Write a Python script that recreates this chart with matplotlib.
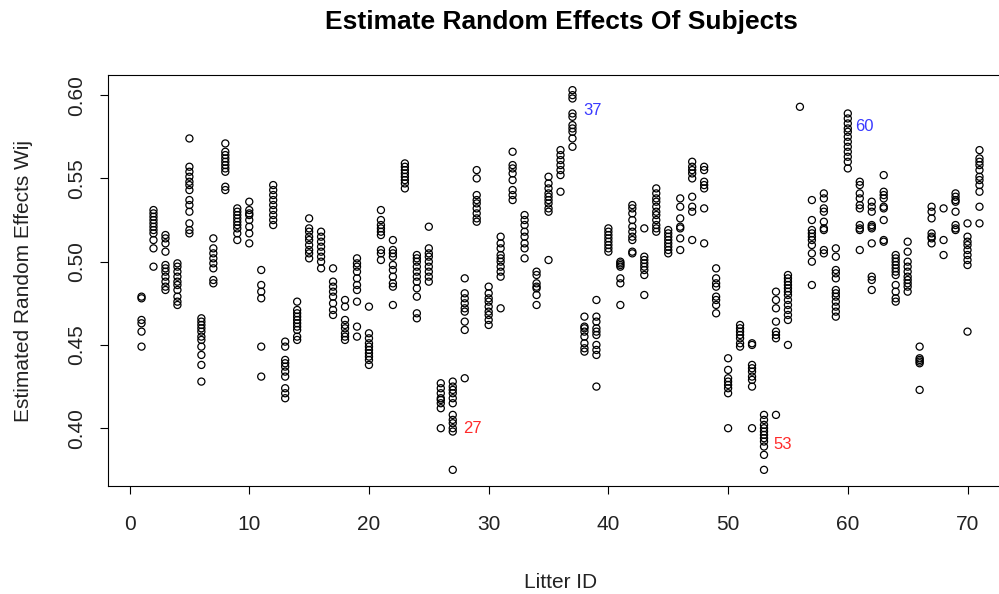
import matplotlib
matplotlib.use("Agg")
import matplotlib.pyplot as plt

litters = list(range(1, 72))
effects = [
    [0.479, 0.478, 0.465, 0.463, 0.458, 0.449],
    [0.531, 0.529, 0.527, 0.525, 0.523, 0.521, 0.519, 0.517, 0.513, 0.508, 0.497],
    [0.516, 0.514, 0.511, 0.506, 0.498, 0.496, 0.494, 0.491, 0.488, 0.485, 0.483],
    [0.499, 0.497, 0.494, 0.491, 0.488, 0.486, 0.483, 0.479, 0.476, 0.474],
    [0.574, 0.557, 0.554, 0.551, 0.548, 0.546, 0.543, 0.537, 0.534, 0.530, 0.523, 0.519, 0.517],
    [0.466, 0.464, 0.462, 0.460, 0.458, 0.455, 0.453, 0.449, 0.444, 0.438, 0.428],
    [0.514, 0.508, 0.505, 0.502, 0.499, 0.496, 0.489, 0.487],
    [0.571, 0.566, 0.564, 0.562, 0.560, 0.558, 0.556, 0.554, 0.545, 0.543],
    [0.532, 0.530, 0.528, 0.526, 0.524, 0.522, 0.520, 0.517, 0.513],
    [0.536, 0.531, 0.529, 0.528, 0.525, 0.521, 0.517, 0.511],
    [0.495, 0.486, 0.482, 0.478, 0.449, 0.431],
    [0.546, 0.543, 0.540, 0.537, 0.534, 0.531, 0.528, 0.525, 0.522],
    [0.452, 0.449, 0.441, 0.439, 0.437, 0.434, 0.431, 0.424, 0.421, 0.418],
    [0.476, 0.471, 0.469, 0.467, 0.465, 0.463, 0.461, 0.459, 0.455, 0.453],
    [0.526, 0.520, 0.518, 0.515, 0.513, 0.510, 0.507, 0.505, 0.502],
    [0.518, 0.515, 0.512, 0.509, 0.506, 0.503, 0.500, 0.496],
    [0.496, 0.488, 0.485, 0.482, 0.479, 0.475, 0.471, 0.468],
    [0.477, 0.473, 0.465, 0.462, 0.460, 0.457, 0.455, 0.453],
    [0.502, 0.499, 0.497, 0.494, 0.490, 0.486, 0.483, 0.476, 0.461, 0.455],
    [0.473, 0.457, 0.454, 0.451, 0.449, 0.447, 0.445, 0.443, 0.441, 0.438],
    [0.531, 0.525, 0.522, 0.520, 0.518, 0.516, 0.507, 0.505, 0.501],
    [0.513, 0.507, 0.505, 0.503, 0.498, 0.495, 0.491, 0.487, 0.485, 0.474],
    [0.559, 0.557, 0.555, 0.553, 0.551, 0.549, 0.547, 0.544],
    [0.504, 0.502, 0.500, 0.497, 0.494, 0.491, 0.488, 0.484, 0.479, 0.469, 0.466],
    [0.521, 0.508, 0.505, 0.503, 0.500, 0.497, 0.494, 0.491, 0.488],
    [0.427, 0.424, 0.421, 0.418, 0.417, 0.415, 0.412, 0.400],
    [0.428, 0.425, 0.423, 0.421, 0.418, 0.415, 0.408, 0.405, 0.403, 0.400, 0.398, 0.375],
    [0.490, 0.481, 0.478, 0.475, 0.472, 0.470, 0.464, 0.459, 0.430],
    [0.555, 0.550, 0.540, 0.537, 0.535, 0.532, 0.529, 0.526, 0.524],
    [0.485, 0.481, 0.478, 0.476, 0.473, 0.470, 0.468, 0.465, 0.462],
    [0.515, 0.511, 0.508, 0.504, 0.502, 0.500, 0.497, 0.494, 0.491, 0.472],
    [0.566, 0.558, 0.556, 0.553, 0.549, 0.543, 0.540, 0.537],
    [0.528, 0.525, 0.522, 0.518, 0.515, 0.511, 0.508, 0.502],
    [0.494, 0.492, 0.487, 0.485, 0.484, 0.480, 0.474],
    [0.551, 0.547, 0.544, 0.541, 0.539, 0.537, 0.535, 0.532, 0.530, 0.501],
    [0.567, 0.564, 0.561, 0.558, 0.555, 0.552, 0.542],
    [0.603, 0.600, 0.598, 0.589, 0.587, 0.582, 0.580, 0.578, 0.574, 0.569],
    [0.467, 0.461, 0.460, 0.458, 0.455, 0.451, 0.448, 0.446],
    [0.477, 0.467, 0.464, 0.460, 0.458, 0.456, 0.450, 0.447, 0.444, 0.425],
    [0.520, 0.518, 0.516, 0.514, 0.512, 0.510, 0.508, 0.506],
    [0.500, 0.499, 0.498, 0.497, 0.490, 0.487, 0.474],
    [0.534, 0.532, 0.529, 0.525, 0.521, 0.518, 0.515, 0.513, 0.506, 0.505],
    [0.520, 0.503, 0.501, 0.499, 0.497, 0.495, 0.492, 0.480],
    [0.544, 0.541, 0.538, 0.536, 0.533, 0.530, 0.528, 0.525, 0.522, 0.520, 0.518],
    [0.519, 0.517, 0.515, 0.513, 0.511, 0.509, 0.507, 0.505],
    [0.538, 0.533, 0.526, 0.521, 0.520, 0.514, 0.507],
    [0.560, 0.557, 0.555, 0.553, 0.550, 0.539, 0.533, 0.530, 0.513],
    [0.557, 0.555, 0.548, 0.546, 0.544, 0.532, 0.511],
    [0.496, 0.490, 0.487, 0.485, 0.479, 0.477, 0.474, 0.469],
    [0.442, 0.435, 0.430, 0.428, 0.426, 0.424, 0.421, 0.400],
    [0.462, 0.460, 0.458, 0.456, 0.454, 0.451, 0.449],
    [0.451, 0.450, 0.438, 0.436, 0.434, 0.431, 0.429, 0.425, 0.400],
    [0.408, 0.405, 0.402, 0.400, 0.398, 0.396, 0.394, 0.392, 0.389, 0.384, 0.375],
    [0.482, 0.477, 0.472, 0.464, 0.458, 0.456, 0.454, 0.408],
    [0.492, 0.490, 0.488, 0.486, 0.484, 0.482, 0.480, 0.477, 0.474, 0.471, 0.468, 0.465, 0.450],
    [0.593],
    [0.537, 0.525, 0.519, 0.517, 0.515, 0.513, 0.510, 0.505, 0.500, 0.486],
    [0.541, 0.538, 0.532, 0.530, 0.524, 0.520, 0.519, 0.507, 0.505],
    [0.508, 0.503, 0.495, 0.493, 0.490, 0.483, 0.481, 0.479, 0.476, 0.473, 0.470, 0.467],
    [0.589, 0.586, 0.583, 0.580, 0.578, 0.575, 0.572, 0.569, 0.566, 0.563, 0.560, 0.556],
    [0.548, 0.546, 0.541, 0.538, 0.534, 0.532, 0.522, 0.520, 0.519, 0.507],
    [0.536, 0.533, 0.530, 0.522, 0.521, 0.520, 0.511, 0.491, 0.489, 0.483],
    [0.552, 0.542, 0.540, 0.538, 0.533, 0.532, 0.525, 0.513, 0.512],
    [0.504, 0.502, 0.500, 0.498, 0.496, 0.494, 0.492, 0.486, 0.482, 0.478, 0.476],
    [0.512, 0.506, 0.500, 0.497, 0.494, 0.491, 0.489, 0.487, 0.485, 0.482],
    [0.449, 0.442, 0.441, 0.440, 0.439, 0.423],
    [0.533, 0.530, 0.526, 0.517, 0.515, 0.514, 0.511],
    [0.532, 0.513, 0.504],
    [0.541, 0.539, 0.537, 0.536, 0.530, 0.522, 0.520, 0.519],
    [0.523, 0.515, 0.512, 0.510, 0.507, 0.504, 0.501, 0.498, 0.458],
    [0.567, 0.562, 0.560, 0.558, 0.555, 0.551, 0.549, 0.546, 0.542, 0.533, 0.523],
]

label_ids = [27, 37, 53, 60]
label_x = [27.9, 37.9, 53.8, 60.6]
label_y = [0.400, 0.591, 0.390, 0.581]
label_colors = ["#FF2A2A", "#3A3AFF", "#FF2A2A", "#3A3AFF"]

xticks = [0, 10, 20, 30, 40, 50, 60, 70]
yticks = [0.40, 0.45, 0.50, 0.55, 0.60]
ytick_labels = ["0.40", "0.45", "0.50", "0.55", "0.60"]

plt.rcParams['font.family'] = ['Liberation Sans', 'DejaVu Sans']

W, H = 999, 594
fig = plt.figure(figsize=(W / 100, H / 100), dpi=100)
# plot region: left 108px, top 75px, bottom 486px, right beyond image (R region cropped)
ax = fig.add_axes([108 / W, (H - 486) / H, 905 / W, 411 / H])

xs = []
ys = []
for lid, vals in zip(litters, effects):
    xs.extend([lid] * len(vals))
    ys.extend(vals)

ax.scatter(xs, ys, s=26, facecolors='none', edgecolors='black', linewidths=0.9, zorder=3)

for lid, lx, ly, c in zip(label_ids, label_x, label_y, label_colors):
    ax.text(lx, ly, str(lid), color=c, fontsize=12, ha='left', va='center')

txt_col = '#222222'
fs = 15
ax.set_xlim(-1.8, 73.8)
ax.set_ylim(0.3653, 0.6121)
ax.set_xticks(xticks)
ax.set_yticks(yticks)
ax.set_yticklabels(ytick_labels, rotation=90, va='center')
ax.tick_params(axis='both', direction='out', length=6, width=0.8, labelsize=fs,
               colors='black', labelcolor=txt_col)
ax.tick_params(axis='x', pad=15)
ax.tick_params(axis='y', pad=10)
for sp in ax.spines.values():
    sp.set_linewidth(0.8)
    sp.set_color('black')

ax.set_xlabel("Litter ID", fontsize=fs, labelpad=28, color=txt_col)
ax.set_ylabel("Estimated Random Effects Wij", fontsize=fs, labelpad=24, color=txt_col)

fig.text(561 / W, 1 - 22 / H, "Estimate Random Effects Of Subjects", ha='center', va='center',
         fontsize=19, fontweight='bold')

fig.savefig("out.png", dpi=100)
